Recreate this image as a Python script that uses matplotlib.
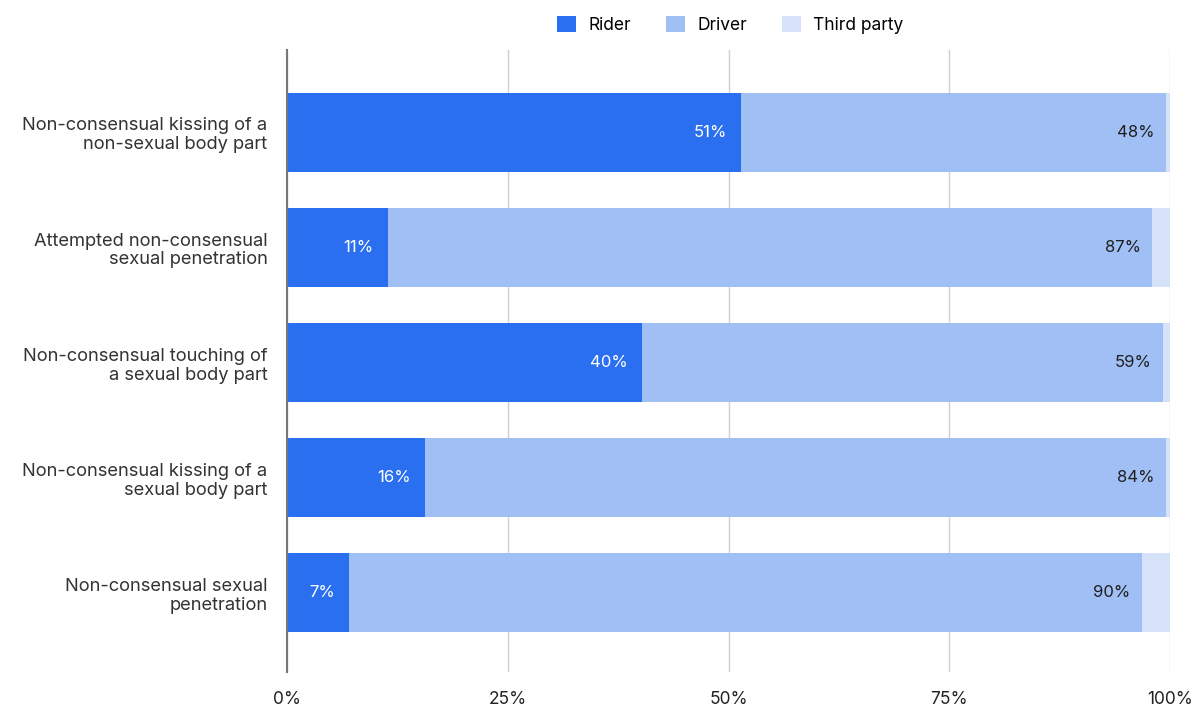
import matplotlib.pyplot as plt
import numpy as np

plt.rcParams['font.family'] = ['Inter', 'DejaVu Sans']

categories = ["Non-consensual kissing of a\nnon-sexual body part",
              "Attempted non-consensual\nsexual penetration",
              "Non-consensual touching of\na sexual body part",
              "Non-consensual kissing of a\nsexual body part",
              "Non-consensual sexual\npenetration"]
rider = [51.4, 11.4, 40.2, 15.6, 7.0]
driver = [48.1, 86.6, 59.0, 84.0, 89.8]
third = [100 - r - d for r, d in zip(rider, driver)]
series_names = ["Rider", "Driver", "Third party"]
colors = ["#2a6ff0", "#a0bff5", "#d5e2fa"]

fig = plt.figure(figsize=(11.97, 7.09), dpi=100)
ax = fig.add_axes([287/1197, 1 - 672/709, 883/1197, 622/709])

y = np.arange(len(categories))
h = 0.69
rider = np.array(rider)
driver = np.array(driver)
b1 = ax.barh(y, rider, height=h, color=colors[0], label=series_names[0], zorder=3)
b2 = ax.barh(y, driver, left=rider, height=h, color=colors[1], label=series_names[1], zorder=3)
b3 = ax.barh(y, third, left=rider + driver, height=h, color=colors[2], label=series_names[2], zorder=3)

for i in range(len(categories)):
    ax.text(rider[i] - 1.6, y[i], f"{rider[i]:.0f}%", ha='right', va='center',
            color='white', fontsize=12, zorder=4)
    ax.text(rider[i] + driver[i] - 1.3, y[i], f"{driver[i]:.0f}%", ha='right', va='center',
            color='#1f1f1f', fontsize=12, zorder=4)

ax.set_xlim(0, 100)
ax.set_ylim(4.69, -0.717)
ax.set_xticks([0, 25, 50, 75, 100])
ax.set_xticklabels(["0%", "25%", "50%", "75%", "100%"])
ax.set_yticks(y)
ax.set_yticklabels(categories, fontsize=13.2, color='#333333', linespacing=1.15)
ax.tick_params(axis='x', labelsize=12.5, colors='#222222', length=0, pad=14)
ax.tick_params(axis='y', length=0, pad=14)
ax.grid(axis='x', color='#d0d0d0', linewidth=1, zorder=0)
for s in ['top', 'right', 'bottom']:
    ax.spines[s].set_visible(False)
ax.spines['left'].set_color('#777777')
ax.spines['left'].set_linewidth(1.5)
ax.spines['left'].set_zorder(5)

fig.legend(handles=[b1, b2, b3], loc='upper center', bbox_to_anchor=(0.61, 1.0), ncol=3,
           frameon=False, fontsize=12.5, handlelength=1.1, handleheight=1.1,
           columnspacing=2.0, handletextpad=0.7)

fig.savefig("out.png", dpi=100)
